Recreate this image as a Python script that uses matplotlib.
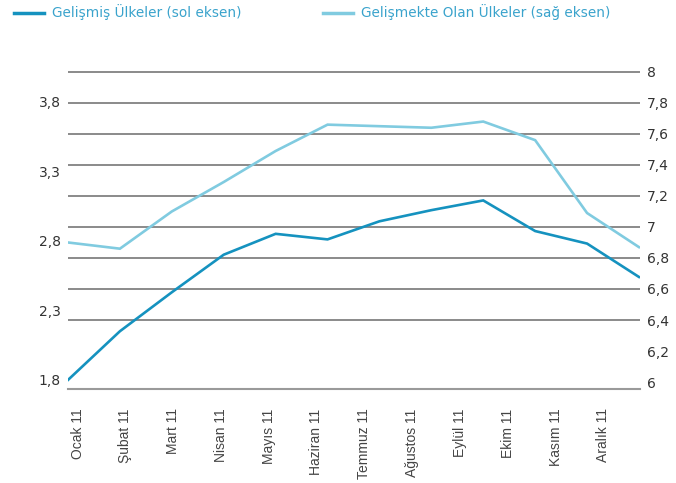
import matplotlib
matplotlib.use("Agg")
import matplotlib.pyplot as plt
import numpy as np
from matplotlib.lines import Line2D

months = ["Ocak 11", "Şubat 11", "Mart 11", "Nisan 11", "Mayıs 11", "Haziran 11",
          "Temmuz 11", "Ağustos 11", "Eylül 11", "Ekim 11", "Kasım 11", "Aralık 11"]
gelismis = [1.80, 2.15, 2.43, 2.70, 2.85, 2.81, 2.94, 3.02, 3.09, 2.87, 2.78, 2.54]
gelismekte = [6.90, 6.86, 7.10, 7.29, 7.49, 7.66, 7.65, 7.64, 7.68, 7.56, 7.09, 6.87]

left_ticks = [1.8, 2.3, 2.8, 3.3, 3.8]
right_ticks = [6, 6.2, 6.4, 6.6, 6.8, 7, 7.2, 7.4, 7.6, 7.8, 8]

def fmt(v):
    s = f"{v:g}"
    return s.replace(".", ",")

narrow = ["Liberation Sans Narrow", "DejaVu Sans"]
dark = "#1592bf"
light = "#80cbe0"
grid_c = "#777777"

fig = plt.figure(figsize=(6.76, 4.83), dpi=100)
ax = fig.add_axes([68/676, 1-389/483, 572/676, 318/483])
ax2 = ax.twinx()

x = np.arange(len(months))
ax.set_xlim(0, 11.02)
ax.set_ylim(1.735, 4.02)
ax2.set_ylim(5.955, 8.006)

ax2.plot(x, gelismekte, color=light, lw=1.9, zorder=3, solid_joinstyle="miter")
ax.plot(x, gelismis, color=dark, lw=1.9, zorder=3, solid_joinstyle="miter")
ax.set_zorder(ax2.get_zorder() + 1)
ax.patch.set_visible(False)

ax.set_yticks(left_ticks, [fmt(v) for v in left_ticks])
ax2.set_yticks(right_ticks, [fmt(v) for v in right_ticks])
for a in (ax, ax2):
    a.tick_params(axis="y", length=0, pad=5, labelsize=10, labelcolor="#333333")
    for lab in a.get_yticklabels():
        lab.set_family(narrow)
    for s in a.spines.values():
        s.set_visible(False)

ax2.yaxis.grid(True, color=grid_c, lw=1.2)
gl = ax2.get_ygridlines()
gl[0].set_visible(False)
gl[1].set_visible(False)
ax2.spines["bottom"].set_visible(True)
ax2.spines["bottom"].set_color("#9a9a9a")
ax2.spines["bottom"].set_linewidth(1.5)

px_per_unit = 572 / 11.02
tick_pos = (9.5 + np.arange(len(months)) * 47.8) / px_per_unit
ax.set_xticks(tick_pos, months, rotation=90, family=["Liberation Sans", "DejaVu Sans"],
              fontsize=10, color="#444444")
ax.tick_params(axis="x", length=0, pad=14)
ax2.tick_params(axis="x", length=0)

handles = [Line2D([], [], color=dark, lw=2.5), Line2D([], [], color=light, lw=2.5)]
leg = fig.legend(handles, ["Gelişmiş Ülkeler (sol eksen)", "Gelişmekte Olan Ülkeler (sağ eksen)"],
                 loc="upper left", bbox_to_anchor=(14/676, 0.991), ncol=2, frameon=False,
                 borderpad=0, borderaxespad=0, handlelength=2.2, handletextpad=0.6,
                 columnspacing=5.95, prop={"family": narrow, "size": 9.8}, labelcolor="#3aa3cc")

fig.savefig("out.png", dpi=100)
